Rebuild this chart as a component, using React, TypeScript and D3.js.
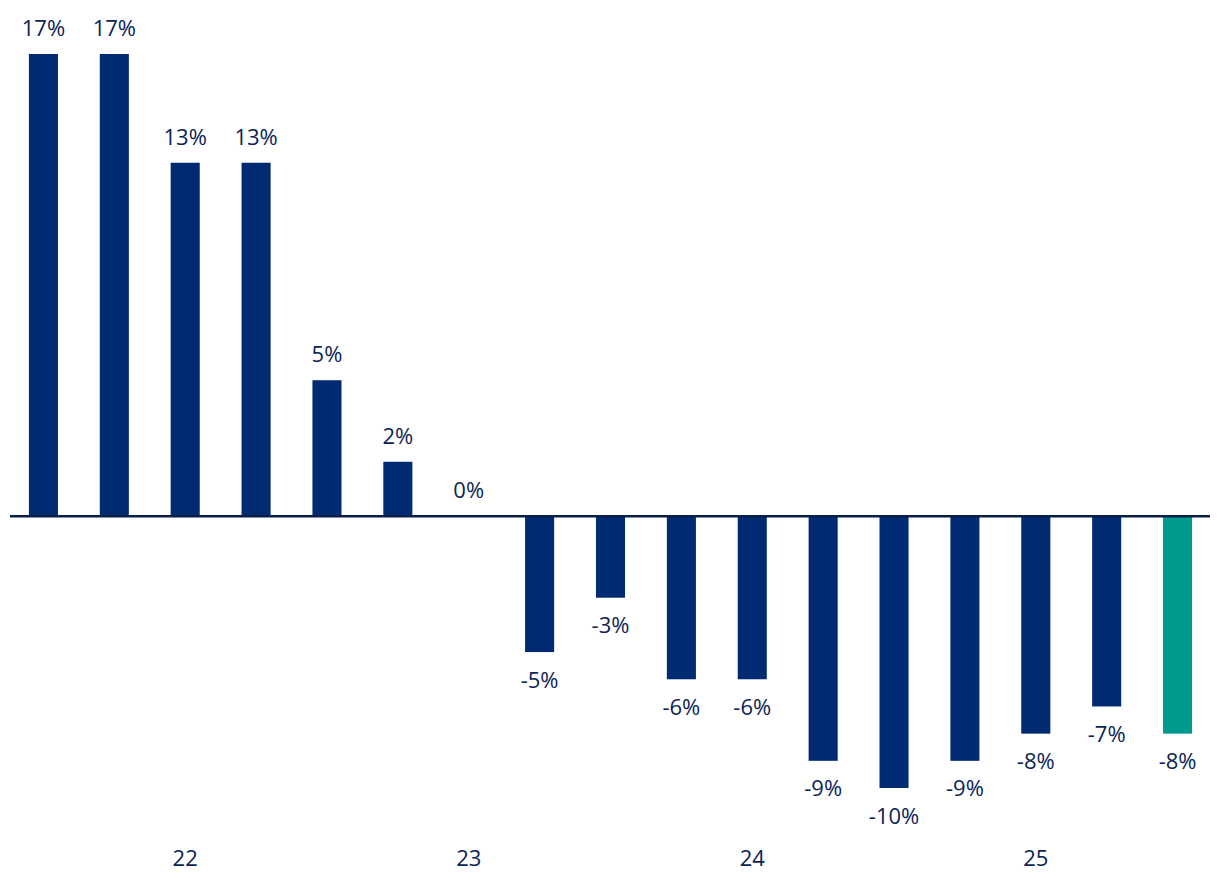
import React from "react";
import * as d3 from "d3";

const categories = ["21Q3","21Q4","22Q1","22Q2","22Q3","22Q4","23Q1","23Q2","23Q3","23Q4","24Q1","24Q2","24Q3","24Q4","25Q1","25Q2","25Q3"];
const values = [17,17,13,13,5,2,0,-5,-3,-6,-6,-9,-10,-9,-8,-7,-8];
const tickLabels: Record<string, string> = { "22Q1": "22", "23Q1": "23", "24Q1": "24", "25Q1": "25" };
const highlight = "25Q3";

const W = 1220, H = 896;
const NAVY = "#002a72";
const TEAL = "#00998e";
const TEXT = "#0b2455";
const FONT = "'Open Sans', sans-serif";

export default function App() {
  const x = d3.scaleBand<string>().domain(categories).range([8, 1213]).paddingInner(0.59).paddingOuter(0.295);
  const y = d3.scaleLinear().domain([-10, 17]).range([788, 54]);
  const y0 = y(0);
  return (
    <svg width={W} height={H} style={{ position: "absolute", left: 0, top: 0 }}>
      {categories.map((c, i) => {
        const v = values[i];
        const top = Math.min(y(v), y0);
        const h = Math.abs(y(v) - y0);
        const cx = (x(c) as number) + x.bandwidth() / 2;
        return (
          <g key={c}>
            {h > 0 && <rect x={x(c)} y={top} width={x.bandwidth()} height={h} fill={c === highlight ? TEAL : NAVY} />}
            <text x={cx} y={v >= 0 ? y(v) - 18 : y(v) + 35.5} textAnchor="middle" fontFamily={FONT} fontSize={22} fill={TEXT}>
              {v}%
            </text>
            {tickLabels[c] && (
              <text x={cx} y={866} textAnchor="middle" fontFamily={FONT} fontSize={22} fill={TEXT}>
                {tickLabels[c]}
              </text>
            )}
          </g>
        );
      })}
      <line x1={10} x2={1210} y1={y0} y2={y0} stroke="#0a1e4a" strokeWidth={2.5} />
    </svg>
  );
}
